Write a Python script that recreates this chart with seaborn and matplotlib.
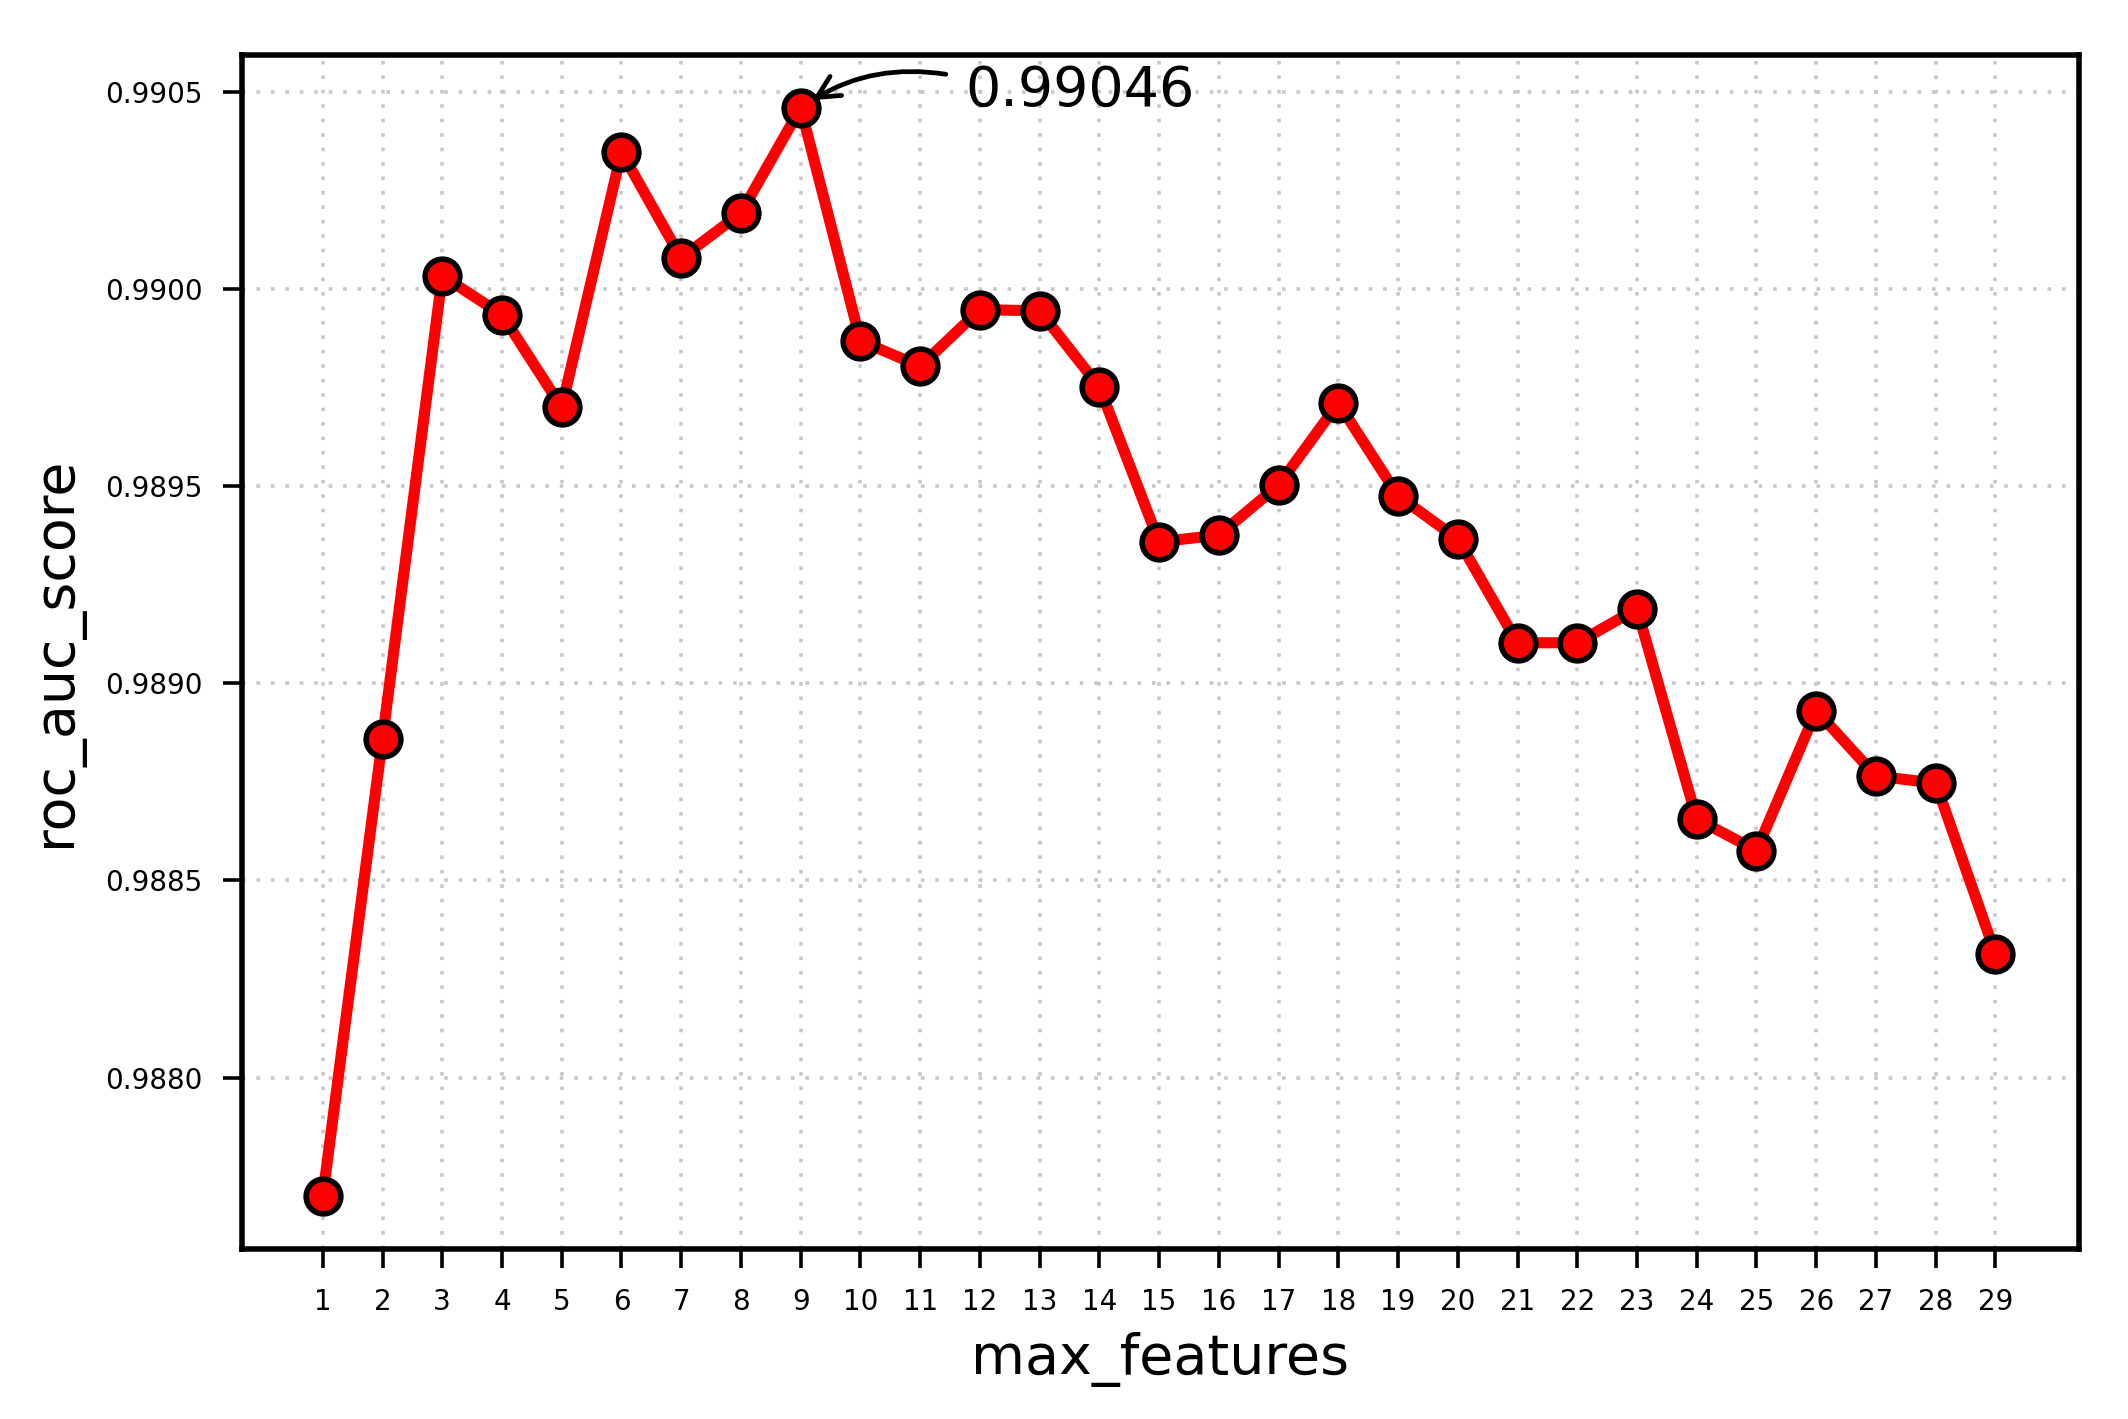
import matplotlib
matplotlib.use("Agg")
import matplotlib.pyplot as plt
import seaborn as sns
import pandas as pd

max_features = list(range(1, 30))
roc_auc = [0.98770, 0.98886, 0.990034, 0.989935, 0.989700, 0.990348, 0.990079,
           0.990193, 0.99046, 0.989869, 0.989804, 0.989948, 0.989945, 0.989752,
           0.989359, 0.989376, 0.989503, 0.989711, 0.989476, 0.989366, 0.989103,
           0.989103, 0.989189, 0.988656, 0.988576, 0.988931, 0.988765, 0.988747,
           0.988314]
y_ticks = [0.9880, 0.9885, 0.9890, 0.9895, 0.9900, 0.9905]
best_label = "0.99046"

sns.set_style("white")
plt.rcParams['font.family'] = ['DejaVu Sans']
plt.rcParams['text.color'] = 'black'
plt.rcParams['axes.labelcolor'] = 'black'
plt.rcParams['xtick.color'] = 'black'
plt.rcParams['ytick.color'] = 'black'

df = pd.DataFrame({"max_features": max_features, "roc_auc_score": roc_auc})

fig = plt.figure(figsize=(10.64, 7.095), dpi=200)
ax = fig.add_axes([0.1135, 0.120, 0.8635, 0.841])

sns.lineplot(data=df, x="max_features", y="roc_auc_score", ax=ax,
             color="#ff0000", linewidth=4.0, marker="o", markersize=12.5,
             markerfacecolor="#ff0000", markeredgecolor="black",
             markeredgewidth=2.0, zorder=3)

ax.set_xlim(-0.36, 30.4)
ax.set_ylim(0.987566, 0.990593)
ax.set_xticks(max_features)
ax.set_xticklabels([str(v) for v in max_features])
ax.set_yticks(y_ticks)
ax.set_yticklabels([f"{v:.4f}" for v in y_ticks])

ax.grid(True, linestyle=(0, (1, 3)), color="#c8c8c8", linewidth=1.3)
ax.set_axisbelow(True)

for s in ax.spines.values():
    s.set_visible(True)
    s.set_color("black")
    s.set_linewidth(2.0)

ax.tick_params(axis="both", which="major", direction="out", length=7,
               width=1.3, color="black", labelsize=10, pad=7,
               labelcolor="black",
               bottom=True, left=True, top=False, right=False)

ax.set_xlabel("max_features", fontsize=20, labelpad=6, color="black")
ax.set_ylabel("roc_auc_score", fontsize=20, labelpad=8, color="black")

ax.annotate("", xy=(9, 0.99046), xytext=(11.43, 0.990545),
            arrowprops=dict(arrowstyle="->", color="black", lw=1.7,
                            mutation_scale=20,
                            connectionstyle="arc3,rad=0.2",
                            shrinkA=0, shrinkB=5))
ax.text(11.75, 0.990503, best_label, fontsize=20, ha="left", va="center",
        color="black")

fig.savefig("out.png", dpi=200)
